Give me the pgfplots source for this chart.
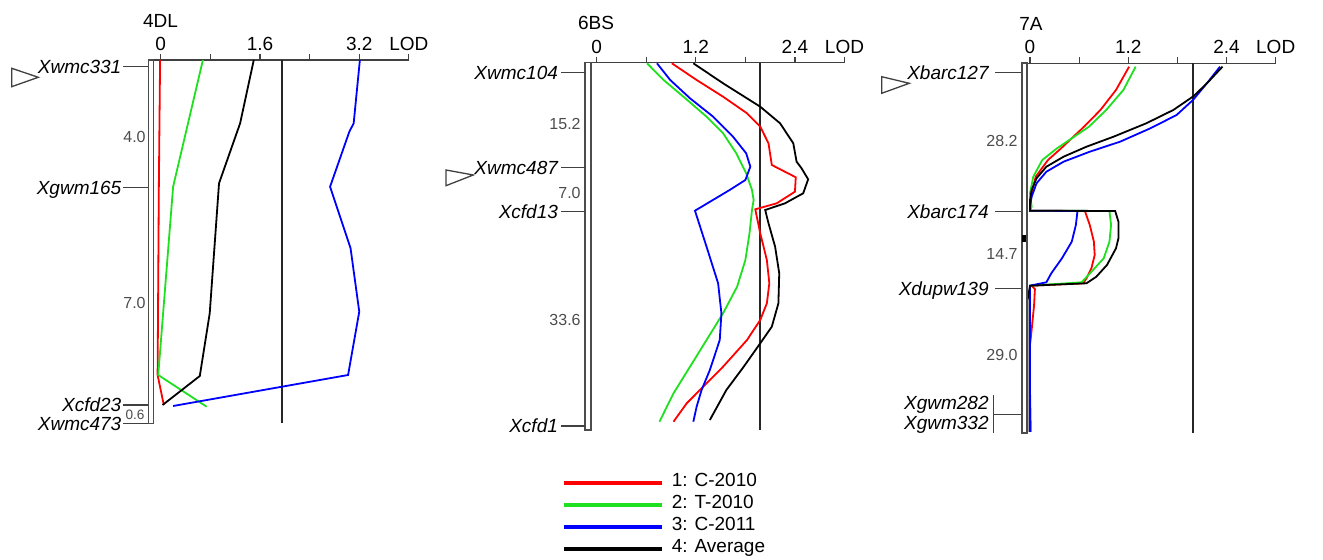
\documentclass[border=0pt]{standalone}
\usepackage{pgfplots}
\pgfplotsset{compat=1.18}
\usepackage{fontspec}
\setmainfont{Liberation Sans}
\newcommand\fa{\fontsize{9.5}{11}\selectfont}
\newcommand\fb{\fontsize{8}{9}\selectfont}
\definecolor{cred}{HTML}{FF0000}
\definecolor{cgreen}{HTML}{1EE01E}
\definecolor{cblue}{HTML}{0000FF}
\definecolor{axgray}{HTML}{404040}
\pgfplotsset{
  common/.style={scale only axis, anchor=north west, axis x line=top, axis y line=none,
    axis line style={-, draw=axgray, line width=0.65pt}, enlargelimits=false,
    tick align=outside, major tick length=3pt, minor tick length=3pt,
    tick style={draw=axgray, line width=0.6pt},
    xticklabel style={font=\fa, inner sep=1.5pt}, clip=false, ytick=\empty, no markers},
  cr/.style={cred, line width=0.9pt},
  cg/.style={cgreen, line width=0.9pt},
  cb/.style={cblue, line width=0.9pt},
  ck/.style={black, line width=0.9pt},
  thr/.style={black!85, line width=0.9pt, forget plot},
}
\tikzset{lab/.style={anchor=east, inner sep=0pt, text height=6.8pt, text depth=0pt, font=\fa\itshape},
  ilab/.style={anchor=east, inner sep=0pt, text height=5.8pt, text depth=0pt, font=\fb, text=black!70},
  mk/.style={draw=axgray, line width=0.65pt},
  chr/.style={draw=black!70, line width=0.8pt, fill=white},
  tri/.style={draw=axgray, line width=0.65pt, fill=white}}
\begin{document}
\begin{tikzpicture}
\useasboundingbox (0,0) rectangle (661.5pt,-280pt);
% ---------------- 4DL
\begin{axis}[common, at={(74.15pt,-30pt)}, width=130.3pt, height=182.5pt,
  xmin=-0.2, xmax=4.0, ymin=-425, ymax=-60,
  xtick={0,1.6,3.2,4.0}, xticklabels={0,1.6,3.2,LOD}, minor xtick={0.8,2.4}]
\addplot[thr] coordinates {(1.95,-60) (1.95,-423)};
\addplot[cr] coordinates {(-0.01,-60) (-0.03,-187) (-0.05,-375) (0.05,-405)};
\addplot[cg] coordinates {(0.68,-60) (0.20,-186.7) (-0.04,-375) (0.74,-406.7)};
\addplot[cb] coordinates {(3.21,-60) (3.11,-123.3) (3.04,-131.7) (2.73,-186.7) (3.06,-248.3) (3.20,-311.7) (3.02,-375) (0.20,-406)};
\addplot[ck] coordinates {(1.50,-60) (1.28,-123.3) (0.94,-183.3) (0.79,-313.3) (0.63,-376) (0.03,-405)};
\end{axis}
% ---------------- 6BS
\begin{axis}[common, at={(292.55pt,-31.35pt)}, width=129.7pt, height=184.15pt,
  xmin=-0.14, xmax=3.0, ymin=-431, ymax=-62.7,
  xtick={0,1.2,2.4,3.0}, xticklabels={0,1.2,2.4,LOD}, minor xtick={0.6,1.8},
  legend style={draw=none, fill=none, inner sep=0pt, outer sep=0pt, at={(-0.09,-0.11)}, anchor=north west,
    font=\fa, row sep=0pt, column sep=4pt, nodes={inner sep=0pt, text height=7.5pt, text depth=3.5pt}},
  legend cell align=left,
  legend image code/.code={\draw[#1, line width=2pt] (0pt,0pt) -- (49pt,0pt);}]
\addplot[thr] coordinates {(1.98,-62.7) (1.98,-430)};
\addplot[cr] coordinates {(0.91,-63.3) (1.21,-80) (1.53,-96.7) (1.82,-113.3) (1.98,-126.7) (2.08,-143.3) (2.12,-165) (2.41,-177.3) (2.40,-191.7) (2.18,-203.3) (1.92,-209.3) (1.98,-233.3) (2.06,-260) (2.09,-283.3) (2.06,-303.3) (1.98,-320) (1.82,-340) (1.53,-366.7) (1.29,-386.7) (1.09,-403.3) (0.93,-421.7)};
\addlegendentry{1: C-2010}
\addplot[cg] coordinates {(0.61,-63.3) (0.81,-80) (1.05,-96.7) (1.33,-116.7) (1.53,-133.3) (1.69,-153.3) (1.81,-173.3) (1.88,-190) (1.90,-200) (1.88,-210) (1.85,-233.3) (1.80,-260) (1.70,-286.7) (1.53,-313.3) (1.33,-340) (1.13,-366.7) (0.93,-393.3) (0.76,-421.7)};
\addlegendentry{2: T-2010}
\addplot[cb] coordinates {(0.73,-63.3) (0.89,-80) (1.13,-98.3) (1.41,-116.7) (1.65,-136.7) (1.81,-153.3) (1.86,-166.7) (1.80,-180) (1.61,-190) (1.19,-210.7) (1.33,-246.7) (1.47,-283.3) (1.51,-313.3) (1.49,-340) (1.37,-370) (1.27,-390) (1.21,-406.7) (1.17,-421.7)};
\addlegendentry{3: C-2011}
\addplot[ck] coordinates {(1.17,-63.3) (1.53,-83.3) (1.98,-106.7) (2.22,-123.3) (2.38,-143.3) (2.42,-161.7) (2.48,-168.3) (2.56,-179.3) (2.50,-193.3) (2.28,-203.3) (2.04,-210) (2.08,-223.3) (2.16,-246.7) (2.21,-273.3) (2.20,-303.3) (2.12,-326.7) (1.98,-343.3) (1.78,-366.7) (1.57,-390) (1.37,-420)};
\addlegendentry{4: Average}
\end{axis}
% ---------------- 7A
\begin{axis}[common, at={(510.9pt,-31.65pt)}, width=126.95pt, height=185.35pt,
  xmin=-0.1, xmax=3.0, ymin=-434, ymax=-63.3,
  xtick={0,1.2,2.4,3.0}, xticklabels={0,1.2,2.4,LOD}, minor xtick={0.6,1.8}]
\addplot[thr] coordinates {(1.99,-63.3) (1.99,-433)};
\addplot[cr] coordinates {(1.21,-66.7) (1.05,-90) (0.86,-110) (0.66,-126.7) (0.53,-136.7) (0.38,-148.3) (0.22,-160) (0.07,-176.7) (0.02,-193.3) (0.0,-206.7) (0.0,-210.7) (0.67,-211) (0.73,-225) (0.78,-241.7) (0.79,-255) (0.75,-268.3) (0.69,-278.3) (0.65,-283.3) (0.02,-285.7) (0.06,-289) (0.05,-305) (0.02,-330) (0.0,-345) (0.0,-390) (0.01,-432)};
\addplot[cg] coordinates {(1.29,-66.7) (1.14,-90) (0.93,-110) (0.72,-126.7) (0.54,-136.7) (0.33,-148.3) (0.15,-160) (0.04,-176.7) (0.0,-193.3) (0.02,-206.7) (0.0,-210.7) (0.97,-211) (0.99,-225) (0.97,-241.7) (0.90,-258.3) (0.77,-270) (0.63,-282.3) (0.0,-285.7) (0.0,-432)};
\addplot[cb] coordinates {(2.32,-66.7) (2.16,-83.3) (1.99,-100) (1.79,-115) (1.47,-128.3) (1.10,-141.7) (0.73,-151.7) (0.41,-161.7) (0.20,-171.7) (0.08,-183.3) (0.02,-196.7) (0.0,-206.7) (0.0,-210.7) (0.58,-211) (0.56,-225) (0.51,-241.7) (0.39,-258.3) (0.26,-273.3) (0.20,-282.3) (0.08,-284.3) (0.0,-285.7) (0.0,-432)};
\addplot[ck] coordinates {(2.35,-66.7) (2.16,-83.3) (2.0,-96) (1.75,-110) (1.42,-123.3) (1.02,-136.7) (0.69,-146.7) (0.41,-156.7) (0.20,-166.7) (0.08,-178.3) (0.02,-190) (0.0,-200) (0.0,-210.7) (1.04,-211) (1.08,-221.7) (1.08,-238.3) (1.05,-248.3) (0.94,-265) (0.81,-276.7) (0.69,-283.3) (0.0,-285.7) (-0.03,-300) (-0.03,-432)};
\end{axis}
% ---------------- annotations (px units)
\begin{scope}[x=0.5pt,y=-0.5pt]
% 4DL
\node[font=\fa] at (160.5,20.7) {4DL};
\draw[chr] (148.3,60) rectangle (153.6,423.5);
\foreach \yy/\nm in {66.7/Xwmc331, 187.3/Xgwm165, 405/Xcfd23, 423.3/Xwmc473}{
  \draw[mk] (123.3,\yy) -- (147.5,\yy);
  \node[lab] at (121.7,\yy) {\nm};}
\node[ilab] at (146,137) {4.0};
\node[ilab] at (146,303) {7.0};
\node[inner sep=0pt, font=\fontsize{6.8}{8}\selectfont, text=black!70] at (135,415) {0.6};
\draw[tri] (11.7,68.3) -- (11.7,86.7) -- (38.3,77.3) -- cycle;
% 6BS
\node[font=\fa] at (596,22.7) {6BS};
\draw[chr] (585,62.7) rectangle (590.7,430);
\foreach \yy/\nm in {72.3/Xwmc104, 167.3/Xwmc487, 211.7/Xcfd13, 426/Xcfd1}{
  \draw[mk] (561,\yy) -- (584.5,\yy);
  \node[lab] at (558.3,\yy) {\nm};}
\node[ilab] at (581,124) {15.2};
\node[ilab] at (581,192.7) {7.0};
\node[ilab] at (581,319.3) {33.6};
\draw[tri] (446,170) -- (446,185.7) -- (473.3,175) -- cycle;
% 7A
\node[font=\fa] at (1031,24) {7A};
\draw[chr] (1021.7,63.3) rectangle (1026.7,433.3);
\fill[black] (1021.7,235) rectangle (1026.4,242.5);
\foreach \yy/\nm in {72.3/Xbarc127, 211.7/Xbarc174, 288.3/Xdupw139}{
  \draw[mk] (995,\yy) -- (1021.2,\yy);
  \node[lab] at (989,\yy) {\nm};}
\draw[mk] (993.3,395) -- (993.3,433);
\draw[mk] (993.3,414.5) -- (1021.2,414.5);
\node[lab] at (989,403) {Xgwm282};
\node[lab] at (989,423) {Xgwm332};
\node[ilab] at (1018,140.7) {28.2};
\node[ilab] at (1018,253.3) {14.7};
\node[ilab] at (1018,355) {29.0};
\draw[tri] (881.7,76.7) -- (881.7,93.3) -- (909.3,83.3) -- cycle;
\end{scope}
\end{tikzpicture}
\end{document}
